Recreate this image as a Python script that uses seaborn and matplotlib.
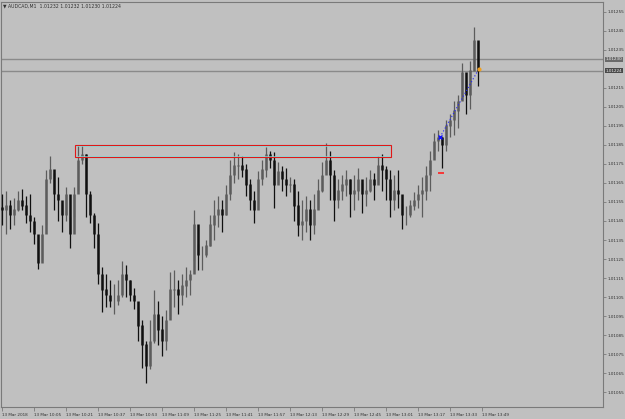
import numpy as np
import pandas as pd
import matplotlib
matplotlib.use("Agg")
import matplotlib.pyplot as plt
from matplotlib.patches import Rectangle
from matplotlib import font_manager
import seaborn as sns

# AUDCAD M1, one bar every 2 minutes starting 09:49
bar_high = [1.01159, 1.01161, 1.01156, 1.01157, 1.01161, 1.01162, 1.01158, 1.01159, 1.01147, 1.01135,
            1.01143, 1.01172, 1.01179, 1.01170, 1.01168, 1.01154, 1.01163, 1.01147, 1.01163, 1.01185,
            1.01185, 1.01180, 1.01161, 1.01149, 1.01144, 1.01121, 1.01117, 1.01114, 1.01112, 1.01114,
            1.01124, 1.01122, 1.01114, 1.01110, 1.01100, 1.01093, 1.01082, 1.01093, 1.01109, 1.01103,
            1.01095, 1.01098, 1.01118, 1.01119, 1.01114, 1.01117, 1.01121, 1.01119, 1.01151, 1.01133,
            1.01132, 1.01135, 1.01148, 1.01156, 1.01158, 1.01156, 1.01164, 1.01177, 1.01181, 1.01180,
            1.01179, 1.01175, 1.01167, 1.01161, 1.01171, 1.01177, 1.01184, 1.01182, 1.01181, 1.01176,
            1.01174, 1.01173, 1.01168, 1.01167, 1.01161, 1.01156, 1.01158, 1.01156, 1.01159, 1.01167,
            1.01176, 1.01186, 1.01182, 1.01172, 1.01167, 1.01169, 1.01172, 1.01167, 1.01169, 1.01173,
            1.01165, 1.01168, 1.01172, 1.01170, 1.01179, 1.01180, 1.01174, 1.01172, 1.01169, 1.01172,
            1.01154, 1.01153, 1.01156, 1.01160, 1.01164, 1.01168, 1.01174, 1.01182, 1.01191, 1.01193,
            1.01189, 1.01198, 1.01201, 1.01208, 1.01211, 1.01228, 1.01219, 1.01229, 1.01247, 1.01239]
bar_low = [1.01143, 1.01138, 1.01141, 1.01143, 1.01150, 1.01151, 1.01144, 1.01139, 1.01133, 1.01120,
           1.01124, 1.01143, 1.01165, 1.01151, 1.01145, 1.01139, 1.01145, 1.01131, 1.01147, 1.01161,
           1.01175, 1.01147, 1.01144, 1.01131, 1.01112, 1.01097, 1.01100, 1.01100, 1.01096, 1.01101,
           1.01105, 1.01105, 1.01103, 1.01099, 1.01082, 1.01068, 1.01060, 1.01067, 1.01081, 1.01080,
           1.01074, 1.01077, 1.01095, 1.01100, 1.01096, 1.01101, 1.01105, 1.01106, 1.01124, 1.01119,
           1.01119, 1.01126, 1.01132, 1.01135, 1.01142, 1.01139, 1.01148, 1.01156, 1.01165, 1.01167,
           1.01168, 1.01158, 1.01151, 1.01144, 1.01160, 1.01164, 1.01168, 1.01173, 1.01152, 1.01165,
           1.01161, 1.01158, 1.01160, 1.01145, 1.01137, 1.01135, 1.01139, 1.01135, 1.01138, 1.01152,
           1.01160, 1.01170, 1.01156, 1.01145, 1.01152, 1.01156, 1.01158, 1.01147, 1.01151, 1.01156,
           1.01149, 1.01153, 1.01160, 1.01156, 1.01165, 1.01161, 1.01156, 1.01147, 1.01151, 1.01152,
           1.01141, 1.01143, 1.01147, 1.01151, 1.01152, 1.01147, 1.01156, 1.01161, 1.01179, 1.01182,
           1.01173, 1.01182, 1.01189, 1.01190, 1.01194, 1.01211, 1.01201, 1.01204, 1.01227, 1.01216]
bar_close = [1.01151, 1.01153, 1.01148, 1.01151, 1.01156, 1.01153, 1.01148, 1.01145, 1.01138, 1.01123,
             1.01138, 1.01167, 1.01172, 1.01159, 1.01156, 1.01148, 1.01159, 1.01138, 1.01159, 1.01177,
             1.01180, 1.01159, 1.01148, 1.01138, 1.01117, 1.01109, 1.01106, 1.01103, 1.01103, 1.01106,
             1.01117, 1.01114, 1.01106, 1.01103, 1.01090, 1.01080, 1.01069, 1.01082, 1.01096, 1.01088,
             1.01082, 1.01093, 1.01109, 1.01109, 1.01106, 1.01111, 1.01114, 1.01117, 1.01143, 1.01127,
             1.01127, 1.01132, 1.01143, 1.01148, 1.01151, 1.01148, 1.01159, 1.01169, 1.01174, 1.01174,
             1.01172, 1.01164, 1.01156, 1.01151, 1.01167, 1.01172, 1.01180, 1.01177, 1.01164, 1.01171,
             1.01167, 1.01164, 1.01164, 1.01153, 1.01143, 1.01145, 1.01151, 1.01143, 1.01151, 1.01161,
             1.01169, 1.01177, 1.01169, 1.01156, 1.01161, 1.01164, 1.01167, 1.01159, 1.01161, 1.01167,
             1.01159, 1.01161, 1.01167, 1.01164, 1.01174, 1.01172, 1.01167, 1.01156, 1.01161, 1.01159,
             1.01148, 1.01148, 1.01153, 1.01156, 1.01159, 1.01161, 1.01169, 1.01177, 1.01187, 1.01189,
             1.01185, 1.01195, 1.01198, 1.01203, 1.01208, 1.01223, 1.01211, 1.01224, 1.01240, 1.01224]
first_open = 1.01152

time_labels = ["13 Mar 2018", "13 Mar 10:05", "13 Mar 10:21", "13 Mar 10:37", "13 Mar 10:53",
               "13 Mar 11:09", "13 Mar 11:25", "13 Mar 11:41", "13 Mar 11:57", "13 Mar 12:13",
               "13 Mar 12:29", "13 Mar 12:45", "13 Mar 13:01", "13 Mar 13:17", "13 Mar 13:33",
               "13 Mar 13:49"]
price_ticks = [1.01055, 1.01065, 1.01075, 1.01085, 1.01095, 1.01105, 1.01115, 1.01125, 1.01135,
               1.01145, 1.01155, 1.01165, 1.01175, 1.01185, 1.01195, 1.01205, 1.01215, 1.01235,
               1.01245, 1.01255]

header = "\u25bc AUDCAD,M1  1.01232 1.01232 1.01230 1.01224"
bid_price = 1.01224
ask_price = 1.01230

# zone rectangle (minutes from 09:49, prices)
zone_start, zone_end = 36.5, 194.5
zone_top, zone_bottom = 1.011850, 1.011787

# trade arrows
trade_open = (219.0, 1.01189)
trade_close = (238.5, 1.01225)
stop_mark = (219.5, 1.01170)

sns.set_theme(style="ticks", rc={"axes.facecolor": "#c0c0c0", "figure.facecolor": "#c0c0c0",
                                 "axes.edgecolor": "#7a7a7a", "axes.linewidth": 0.8,
                                 "xtick.color": "#7a7a7a", "ytick.color": "#7a7a7a"})
installed = {f.name for f in font_manager.fontManager.ttflist}
narrow = [f for f in ["DejaVu Sans Condensed", "Liberation Sans Narrow"] if f in installed]
plt.rcParams["font.family"] = narrow + ["DejaVu Sans"]
fs = 3.7 if narrow else 3.0

bars = pd.DataFrame({"high": bar_high, "low": bar_low, "close": bar_close})
bars["minute"] = np.arange(len(bars)) * 2
bars["open"] = bars["close"].shift(1).fillna(first_open)
bars["up"] = bars["close"] >= bars["open"]

fig = plt.figure(figsize=(6.25, 4.19), dpi=100)
ax = fig.add_axes([1 / 625, 12 / 419, 602 / 625, 405 / 419])

# horizontal price lines
ax.axhline(ask_price, color="#8a8a8a", lw=1.0, zorder=1)
ax.axhline(bid_price, color="#8a8a8a", lw=1.0, zorder=1)

colors = np.where(bars["up"], "#5c5c5c", "#101010")
ax.vlines(bars["minute"], bars["low"], bars["high"], colors=colors, lw=0.9, zorder=3)
body_lo = np.minimum(bars["open"], bars["close"])
body_hi = np.maximum(bars["open"], bars["close"])
ax.vlines(bars["minute"], body_lo, body_hi + 0.000002, colors=colors, lw=1.8, zorder=3)

# zone
ax.add_patch(Rectangle((zone_start, zone_bottom), zone_end - zone_start, zone_top - zone_bottom,
                       fill=False, edgecolor="#e01818", lw=0.8, zorder=4))
ax.hlines([zone_top - 0.000005, zone_bottom + 0.000005], zone_start + 0.6, zone_end - 0.6,
          colors="#80d8d8", lw=0.5, zorder=4)

# trade line and markers
trade = pd.DataFrame({"minute": [trade_open[0], trade_close[0]],
                      "price": [trade_open[1], trade_close[1]]})
sns.lineplot(data=trade, x="minute", y="price", ax=ax, color="#2020ff", lw=0.8,
             linestyle=(0, (1, 2)), zorder=5)
ax.plot(trade_open[0], trade_open[1], marker="x", color="#1010ff", ms=3, mew=1.0, zorder=6)
ax.plot(trade_close[0], trade_close[1], marker="o", color="#f0a020", ms=2.0, zorder=6)
ax.plot(stop_mark[0], stop_mark[1], marker="_", color="#ff2020", ms=4, mew=1.2, zorder=6)

ax.set_xlim(-0.5, 300.5)
ax.set_ylim(1.010473, 1.012600)

ax.set_xticks(np.arange(len(time_labels)) * 16)
ax.set_xticklabels(time_labels, ha="left", fontsize=fs, color="#303030")
ax.tick_params(axis="x", length=3, width=0.6, pad=1)

ax.yaxis.tick_right()
ax.set_yticks(price_ticks)
ax.set_yticklabels([f"{p:.5f}" for p in price_ticks], fontsize=fs, color="#303030")
ax.tick_params(axis="y", length=2, width=0.6, pad=1)
ax.set_xlabel("")
ax.set_ylabel("")

for price, face in [(ask_price, "#6a6a6a"), (bid_price, "#4a4a4a")]:
    ax.text(1.0045, price, f"{price:.5f}", transform=ax.get_yaxis_transform(), fontsize=fs,
            color="#f0f0f0", va="center", ha="left",
            bbox=dict(boxstyle="square,pad=0.12", fc=face, ec="none"))

fig.text(3 / 625, 1 - 5.5 / 419, header, fontsize=fs + 0.3, color="#303030", va="center", ha="left")

fig.savefig("out.png", dpi=100, facecolor=fig.get_facecolor())
